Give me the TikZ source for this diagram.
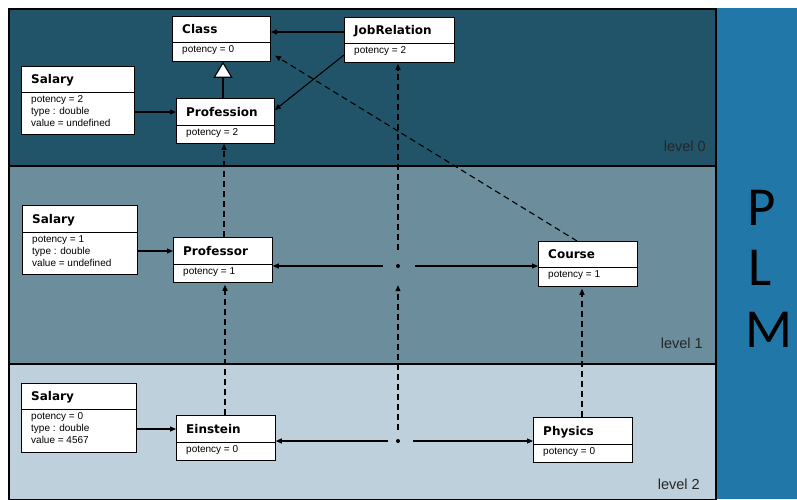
\documentclass[tikz,border=0pt]{standalone}
\usepackage{fontspec}
\setmainfont{Liberation Sans}
\newfontfamily\titlefont{DejaVu Sans}
\newfontfamily\plmfont{Carlito}
\usetikzlibrary{arrows.meta}
\definecolor{lvlzero}{HTML}{215468}
\definecolor{lvlone}{HTML}{6B8D9C}
\definecolor{lvltwo}{HTML}{BDD0DB}
\definecolor{plmblue}{HTML}{2077A8}
\tikzset{
  umlbox/.style={draw=black, fill=white, line width=0.8pt, inner sep=0pt, rectangle},
  ttl/.style={font=\titlefont\bfseries\fontsize{12}{14}\selectfont, inner sep=0pt},
  attr/.style={font=\fontsize{10}{12}\selectfont, inner sep=0pt},
  conn/.style={line width=1.1pt, -{Triangle[length=6pt,width=5pt]}},
  dep/.style={conn, dash pattern=on 6pt off 4pt},
  gen/.style={line width=1.1pt, -{Triangle[length=16pt,width=19pt,fill=white]}},
  dotst/.style={circle, fill=black, inner sep=0pt, minimum size=4pt},
  lvl/.style={font=\fontsize{14.5}{16}\selectfont, text=black!85, inner sep=0pt, anchor=base east},
  band/.style={draw=black, line width=1.2pt},
  plmletter/.style={font=\plmfont\fontsize{55}{60}\selectfont, inner sep=0pt, anchor=base west}
}
\newcommand\umlcls[8]{%
  \node[umlbox, minimum width=#4, minimum height=#5, anchor=north west] (#1) at (#2,#3) {};
  \draw[line width=0.8pt] ([yshift=-#6]#1.north west) -- ([yshift=-#6]#1.north east);
  \node[ttl, anchor=base west] (#1-t) at ([xshift=10, yshift={-(#6/2+4.5)}]#1.north west) {#7};
  \foreach \a [count=\i] in {#8} {\node[attr, anchor=base west] (#1-a\i) at ([xshift=10, yshift={-(#6+10.5+12*(\i-1))}]#1.north west) {\a};}%
}
\begin{document}
\begin{tikzpicture}[x=1pt,y=-1pt]
\useasboundingbox (0,0) rectangle (797,499);
% level bands
\path[band, fill=lvlzero] (9,9) rectangle (716,166);
\path[band, fill=lvlone] (9,166) rectangle (716,364);
\path[band, fill=lvltwo] (9,364) rectangle (716,500);
\fill[plmblue] (716.6,8) rectangle (797,499);
\draw[line width=1.2pt] (716,8.4) -- (716,499);
\node[lvl] (lv0) at (706,151) {level 0};
\node[lvl] (lv1) at (703,348) {level 1};
\node[lvl] (lv2) at (700,489) {level 2};
\node[plmletter] (lp) at (747,225) {P};
\node[plmletter] (ll) at (748.5,285) {L};
\node[plmletter] (lm) at (745.5,347) {M};
% classes
\umlcls{class}{172}{16}{98}{45}{26}{Class}{potency = 0}
\umlcls{jobrel}{344}{17}{110}{45}{26}{JobRelation}{potency = 2}
\umlcls{sal0}{21}{66}{113}{68}{26}{Salary}{potency = 2,type : double,value = undefined}
\umlcls{prof0}{176}{98}{98}{45}{27}{Profession}{potency = 2}
\umlcls{sal1}{22}{205}{115}{69}{27}{Salary}{potency = 1,type : double,value = undefined}
\umlcls{professor}{173}{237}{99}{45}{27}{Professor}{potency = 1}
\umlcls{course}{538}{241}{99}{45}{26}{Course}{potency = 1}
\umlcls{sal2}{21}{383}{115}{69}{26}{Salary}{potency = 0,type : double,value = 4567}
\umlcls{einstein}{176}{415}{99}{45}{27}{Einstein}{potency = 0}
\umlcls{physics}{533}{417}{99}{45}{27}{Physics}{potency = 0}
\node[dotst] (dot1) at (398,266) {};
\node[dotst] (dot2) at (398,441) {};
% connectors level 0
\draw[conn] (jobrel.west |- 0,32) -- (class.east |- 0,32);
\draw[conn] (jobrel.west |- 0,55) -- (prof0.east |- 0,110);
\draw[conn] (sal0.east |- 0,112) -- (prof0.west |- 0,112);
\draw[gen] (prof0.north -| 223,0) -- (class.south -| 223,0);
% level 1
\draw[dep] (professor.north -| 224,0) -- (prof0.south -| 224,0);
\draw[dep, shorten <=14pt, shorten >=1pt] (dot1) -- (jobrel.south -| dot1);
\draw[dep, shorten >=5pt] (course.north -| 577,0) -- (class.east |- 0,53);
\draw[conn] (sal1.east |- 0,251) -- (professor.west |- 0,251);
\draw[conn, shorten <=13pt] (dot1) -- (professor.east |- dot1);
\draw[conn, shorten <=15pt] (dot1) -- (course.west |- dot1);
% level 2
\draw[dep, shorten <=9pt, shorten >=17pt] (dot2) -- (dot1);
\draw[dep, shorten >=2pt] (einstein.north -| 225,0) -- (professor.south -| 225,0);
\draw[dep, shorten >=2pt] (physics.north -| 582,0) -- (course.south -| 582,0);
\draw[conn] (sal2.east |- 0,429) -- (einstein.west |- 0,429);
\draw[conn, shorten <=8pt] (dot2) -- (einstein.east |- dot2);
\draw[conn, shorten <=13pt] (dot2) -- (physics.west |- dot2);
\end{tikzpicture}
\end{document}
